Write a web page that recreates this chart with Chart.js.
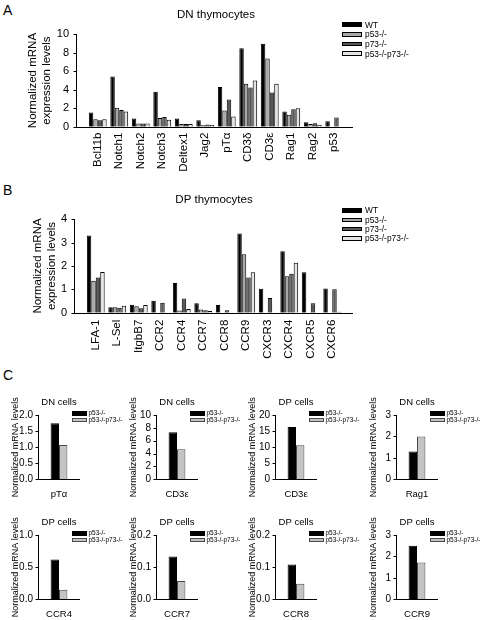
<!DOCTYPE html>
<html>
<head>
<meta charset="utf-8">
<script src="https://cdn.jsdelivr.net/npm/chart.js@4.4.0/dist/chart.umd.min.js"></script>
<style>
body{margin:0;background:#fff;font-family:"Liberation Sans",Arial,sans-serif;}
#wrap{position:relative;width:484px;height:620px;overflow:hidden;background:#fff;}
canvas{position:absolute;}
.lbl{position:absolute;white-space:nowrap;color:#000;}
.sw{position:absolute;box-sizing:border-box;}
.letter{position:absolute;left:3px;font-size:14px;line-height:14px;}
</style>
</head>
<body>
<div id="wrap">
 <div class="letter" style="top:3px">A</div>
 <div class="letter" style="top:183px">B</div>
 <div class="letter" style="top:368px">C</div>
</div>
<script>
// strains
const strains = ['WT', 'p53-/-', 'p73-/-', 'p53-/-p73-/-'];

// A - DN thymocytes
const dnGenes = ['Bcl11b','Notch1','Notch2','Notch3','Deltex1','Jag2','pTα','CD3δ','CD3ε','Rag1','Rag2','p53'];
const dnWT  = [1.55, 5.45, 0.9, 3.8, 0.9, 0.7, 4.3, 8.5, 9.0, 1.65, 0.47, 0.58];
const dnP53 = [0.8, 2.05, 0.35, 0.95, 0.3, 0.15, 1.75, 4.65, 7.4, 1.3, 0.3, 0];
const dnP73 = [0.7, 1.8, 0.35, 1.05, 0.3, 0.25, 2.95, 4.25, 3.7, 1.9, 0.38, 1.0];
const dnDKO = [0.8, 1.65, 0.35, 0.75, 0.3, 0.18, 1.1, 5.0, 4.65, 2.0, 0.22, 0];

// B - DP thymocytes
const dpGenes = ['LFA-1','L-Sel','ItgbB7','CCR2','CCR4','CCR7','CCR8','CCR9','CXCR3','CXCR4','CXCR5','CXCR6'];
const dpWT  = [3.31, 0.23, 0.34, 0.51, 1.27, 0.4, 0.33, 3.39, 1.03, 2.63, 1.73, 1.04];
const dpP53 = [1.37, 0.23, 0.28, 0, 0.09, 0.14, 0, 2.5, 0, 1.56, 0, 0];
const dpP73 = [1.51, 0.21, 0.19, 0.43, 0.61, 0.1, 0.1, 1.51, 0.63, 1.67, 0.41, 1.0];
const dpDKO = [1.74, 0.3, 0.33, 0, 0.16, 0.07, 0, 1.73, 0, 2.14, 0, 0.04];

// C - small panels
const cStrains = ['p53-/-', 'p53-/-p73-/-'];
const cCells = ['DN cells','DN cells','DP cells','DN cells','DP cells','DP cells','DP cells','DP cells'];
const cGenes = ['pTα','CD3ε','CD3ε','Rag1','CCR4','CCR7','CCR8','CCR9'];
const cP53 = [1.74, 7.3, 16.3, 1.3, 0.62, 0.133, 0.108, 2.5];
const cDKO = [1.07, 4.66, 10.6, 2.0, 0.15, 0.057, 0.048, 1.72];
const cMax  = [2, 10, 20, 3, 1, 0.2, 0.2, 3];
const cStep = [0.5, 2, 5, 1, 0.5, 0.1, 0.1, 1];
const cDec  = [1, 0, 0, 0, 1, 1, 1, 0];

const fills = ['#000000', '#a8a8a8', '#585858', '#e4e4e4'];
const cFills = ['#000000', '#c4c4c4'];
const cBorders = ['#000000', '#4a4a4a'];

Chart.defaults.font.family = '"Liberation Sans", Arial, sans-serif';
Chart.defaults.color = '#000';

const wrap = document.getElementById('wrap');

// axis lines drawn a bit outside the category area, like the excel plots
const axisLines = {
  id: 'axisLines',
  afterDraw(chart, args, opts) {
    const ctx = chart.ctx, a = chart.chartArea, y = chart.scales.y;
    const x0 = Math.round(a.left - opts.extL) + 0.5;
    const x1 = Math.round(a.right + opts.extR);
    const yb = Math.round(a.bottom) + 0.5;
    ctx.save();
    ctx.strokeStyle = '#000';
    ctx.lineWidth = 1;
    ctx.beginPath();
    ctx.moveTo(x0, Math.round(a.top));
    ctx.lineTo(x0, yb);
    ctx.lineTo(x1, yb);
    y.ticks.forEach(t => {
      const py = Math.round(y.getPixelForValue(t.value)) + 0.5;
      ctx.moveTo(x0 - opts.tick, py);
      ctx.lineTo(x0, py);
    });
    ctx.stroke();
    ctx.restore();
  }
};

function addCanvas(left, top, w, h) {
  const cv = document.createElement('canvas');
  cv.width = w; cv.height = h;
  cv.style.left = left + 'px';
  cv.style.top = top + 'px';
  wrap.appendChild(cv);
  return cv;
}

function legendRow(x, yc, w, h, fill, border, text, size, tx) {
  const s = document.createElement('div');
  s.className = 'sw';
  s.style.cssText = `left:${x}px;top:${yc - h / 2}px;width:${w}px;height:${h}px;background:${fill};border:1px solid ${border}`;
  wrap.appendChild(s);
  const t = document.createElement('div');
  t.className = 'lbl';
  t.style.cssText = `left:${tx}px;top:${yc - size * 0.6}px;font-size:${size}px;line-height:${size * 1.2}px`;
  t.textContent = text;
  wrap.appendChild(t);
}

function bigChart(c) {
  const cv = addCanvas(0, c.top, 484, 180);
  new Chart(cv, {
    type: 'bar',
    data: {
      labels: c.labels,
      datasets: c.series.map((d, i) => ({
        label: strains[i], data: d,
        backgroundColor: fills[i], borderColor: '#000', borderWidth: 1,
        categoryPercentage: 0.83, barPercentage: 1
      }))
    },
    options: {
      responsive: false, animation: false, devicePixelRatio: 1,
      layout: { padding: { left: 0, right: c.padR, top: 0, bottom: 0 } },
      plugins: {
        legend: { display: false }, tooltip: { enabled: false },
        title: { display: true, text: c.title, fullSize: false, color: '#000',
                 font: { size: 11.5, weight: 'normal' }, padding: { top: c.tTop, bottom: c.tBot } },
        axisLines: { extL: c.extL, extR: c.extR, tick: 3 }
      },
      scales: {
        x: {
          grid: { display: false, drawTicks: false }, border: { display: false },
          ticks: { font: { size: 11.5 }, minRotation: 90, maxRotation: 90, autoSkip: false, padding: c.labPad },
          afterFit(s) { s.height = c.xh; }
        },
        y: {
          min: 0, max: c.max,
          grid: { display: false, drawTicks: false }, border: { display: false },
          ticks: { stepSize: c.step, font: { size: 11 }, padding: c.tickPad, autoSkip: false },
          title: { display: true, text: ['Normalized mRNA', 'expression levels'], color: '#000',
                   font: { size: 11.5 }, padding: { top: c.ytPad, bottom: 0 } },
          afterFit(s) { s.width = c.yw; }
        }
      }
    },
    plugins: [axisLines]
  });
  strains.forEach((s, i) => {
    legendRow(342, c.top + c.legY[i], 20, 4.5, fills[i], '#000', s, 8.4, 365);
  });
}

bigChart({ top: 0, labels: dnGenes, series: [dnWT, dnP53, dnP73, dnDKO], title: 'DN thymocytes',
  max: 10, step: 2, padR: 139, yw: 87, xh: 53.3, tTop: 8.1, tBot: 12.5, extL: 11, extR: 8,
  ytPad: 26, labPad: 6, tickPad: 18, legY: [24.7, 34.5, 44, 53.7] });

bigChart({ top: 180, labels: dpGenes, series: [dpWT, dpP53, dpP73, dpDKO], title: 'DP thymocytes',
  max: 4, step: 1, padR: 141, yw: 85, xh: 47.3, tTop: 13.1, tBot: 12.4, extL: 11, extR: 10,
  ytPad: 31, labPad: 7, tickPad: 18, legY: [30.5, 40, 49, 58.5] });

const axisX = [38, 156, 275, 396];

function smallChart(i) {
  const col = i % 4, row = Math.floor(i / 4);
  const left = axisX[col] - 38, top = 390 + row * 120;
  const cv = addCanvas(left, top, 121, 120);
  new Chart(cv, {
    type: 'bar',
    data: {
      labels: [cGenes[i]],
      datasets: [cP53[i], cDKO[i]].map((v, k) => ({
        label: cStrains[k], data: [v],
        backgroundColor: cFills[k], borderColor: cBorders[k], borderWidth: 1,
        categoryPercentage: 0.4, barPercentage: 1
      }))
    },
    options: {
      responsive: false, animation: false, devicePixelRatio: 1,
      layout: { padding: { left: 0, right: 41, top: 0, bottom: 0 } },
      plugins: {
        legend: { display: false }, tooltip: { enabled: false },
        title: { display: true, text: cCells[i], fullSize: false, color: '#000',
                 font: { size: 9.5, weight: 'normal' }, padding: { top: 6.3, bottom: 7.3 } },
        axisLines: { extL: 0, extR: 0, tick: 3 }
      },
      scales: {
        x: {
          grid: { display: false, drawTicks: false }, border: { display: false },
          ticks: { font: { size: 9.5 }, maxRotation: 0, padding: 9 },
          afterFit(s) { s.height = 30.7; }
        },
        y: {
          min: 0, max: cMax[i],
          grid: { display: false, drawTicks: false }, border: { display: false },
          ticks: { stepSize: cStep[i], font: { size: 10 }, padding: 5, autoSkip: false,
                   callback: v => Number(v).toFixed(cDec[i]) },
          title: { display: true, text: 'Normalized mRNA levels', color: '#000',
                   font: { size: 9 }, padding: { top: 10.6, bottom: 0 } },
          afterFit(s) { s.width = 38; }
        }
      }
    },
    plugins: [axisLines]
  });
  cStrains.forEach((s, k) => {
    legendRow(left + 72, top + 23.3 + k * 6.8, 15, k ? 4.3 : 5, cFills[k], cBorders[k], s, 6.5, left + 88.5);
  });
}

for (let i = 0; i < cGenes.length; i++) smallChart(i);
</script>
</body>
</html>
